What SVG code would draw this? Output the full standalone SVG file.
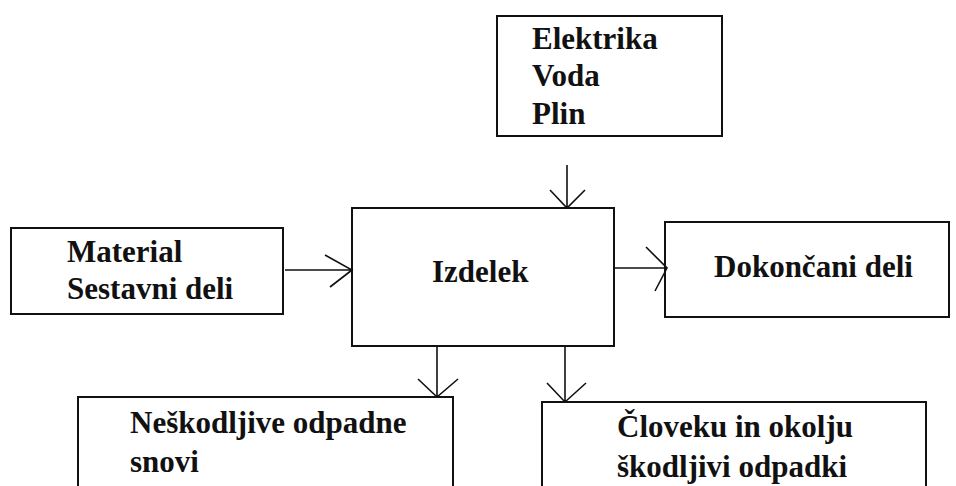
<svg xmlns="http://www.w3.org/2000/svg" width="956" height="486" viewBox="0 0 956 486">
  <style>
    .box { fill: #fff; stroke: #111; stroke-width: 2; }
    .lbl { font-family: 'Liberation Serif', 'DejaVu Serif', serif; font-weight: bold; font-size: 31px; fill: #111; }
    .wire { fill: none; stroke: #111; stroke-width: 1.6; }
  </style>
  <rect width="956" height="486" fill="#fff"/>

  <g id="energija">
    <rect class="box" x="497" y="16" width="225" height="120"/>
    <text class="lbl" x="532" y="49">Elektrika</text>
    <text class="lbl" x="532" y="86">Voda</text>
    <text class="lbl" x="532" y="124">Plin</text>
  </g>

  <g id="material">
    <rect class="box" x="11" y="228" width="272" height="86"/>
    <text class="lbl" x="67" y="262">Material</text>
    <text class="lbl" x="67" y="299">Sestavni deli</text>
  </g>

  <g id="izdelek">
    <rect class="box" x="352" y="208" width="262" height="138"/>
    <text class="lbl" x="432" y="282">Izdelek</text>
  </g>

  <g id="dokoncani">
    <rect class="box" x="665" y="222" width="284" height="95"/>
    <text class="lbl" x="714" y="277">Dokončani deli</text>
  </g>

  <g id="neskodljive">
    <rect class="box" x="78" y="397" width="375" height="100"/>
    <text class="lbl" x="130" y="433">Neškodljive odpadne</text>
    <text class="lbl" x="130" y="472">snovi</text>
  </g>

  <g id="skodljivi">
    <rect class="box" x="542" y="402" width="384" height="100"/>
    <text class="lbl" x="617" y="437">Človeku in okolju</text>
    <text class="lbl" x="617" y="477">škodljivi odpadki</text>
  </g>

  <g id="connectors">
    <!-- energy in, from above -->
    <path class="wire" d="M567 165 V208 M550 190 L567 208 L585 190"/>
    <!-- material in, from the left -->
    <path class="wire" d="M285 270 H352 M325 255 L352 270 L330 287"/>
    <!-- finished parts out, to the right -->
    <path class="wire" d="M614 268 H667 M646 247 L667 268 L655 291"/>
    <!-- harmless waste out -->
    <path class="wire" d="M437 346 V397 M418 379 L437 397 L458 379"/>
    <!-- harmful waste out -->
    <path class="wire" d="M565 346 V402 M547 383 L565 402 L586 383"/>
  </g>
</svg>
